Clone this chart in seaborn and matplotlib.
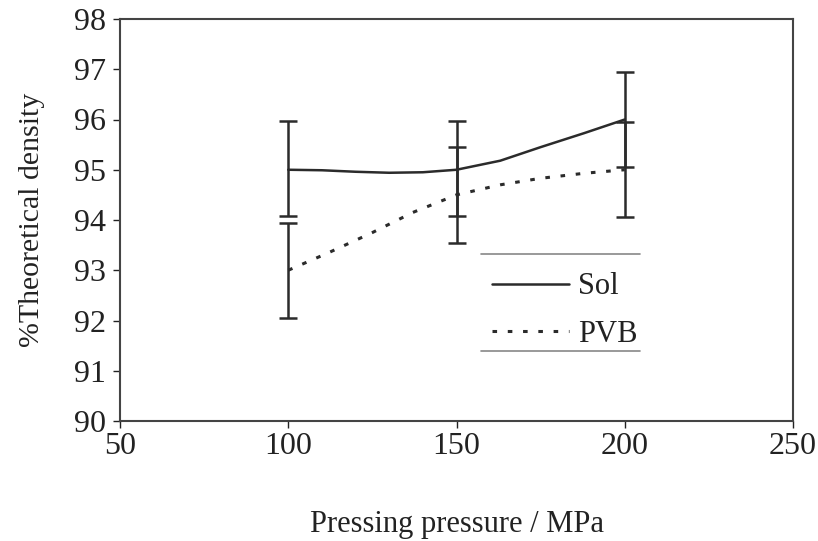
import matplotlib
matplotlib.use("Agg")
import matplotlib.pyplot as plt
import seaborn as sns
import pandas as pd
import numpy as np

# measured points
pressure = [100, 150, 200]
sol_mean = [95.0, 95.0, 96.0]
sol_err_lo = [0.93, 0.92, 0.95]
sol_err_hi = [0.98, 0.97, 0.95]
pvb_mean = [93.0, 94.5, 95.0]
pvb_err_lo = [0.95, 0.95, 0.95]
pvb_err_hi = [0.95, 0.95, 0.96]

# smoothed curve
sol_curve_x = [100, 110, 120, 130, 140, 150, 163, 175, 188, 200]
sol_curve_y = [95.0, 94.99, 94.96, 94.94, 94.95, 95.0, 95.18, 95.45, 95.73, 96.0]
pvb_curve_x = [100, 112, 125, 137, 150, 163, 175, 188, 200]
pvb_curve_y = [93.0, 93.35, 93.75, 94.15, 94.5, 94.7, 94.83, 94.93, 95.0]

x_ticks = [50, 100, 150, 200, 250]
y_ticks = [90, 91, 92, 93, 94, 95, 96, 97, 98]

sns.set_theme(style="white")
plt.rcParams["font.family"] = ["Liberation Serif", "DejaVu Serif"]

fig, ax = plt.subplots(figsize=(8.18, 5.41), dpi=100)
fig.subplots_adjust(left=120/818, right=793/818, top=1-19/541, bottom=1-421/541)

df_sol = pd.DataFrame({"x": sol_curve_x, "y": sol_curve_y})
df_pvb = pd.DataFrame({"x": pvb_curve_x, "y": pvb_curve_y})
ink = "#2b2b2b"
sns.lineplot(data=df_sol, x="x", y="y", ax=ax, color=ink, lw=1.8, label="Sol", sort=True)
sns.lineplot(data=df_pvb, x="x", y="y", ax=ax, color=ink, lw=2.2, label="PVB",
             linestyle=(0, (1.5, 3.5)), sort=True)

ax.errorbar(pressure, sol_mean, yerr=[sol_err_lo, sol_err_hi], fmt="none",
            ecolor=ink, elinewidth=1.8, capsize=6.5, capthick=1.8)
ax.errorbar(pressure, pvb_mean, yerr=[pvb_err_lo, pvb_err_hi], fmt="none",
            ecolor=ink, elinewidth=1.8, capsize=6.5, capthick=1.8)

ax.set_xlim(50, 250)
ax.set_ylim(90, 98)
ax.set_xticks(x_ticks)
ax.set_yticks(y_ticks)
ax.tick_params(axis="both", labelsize=23, colors="#222222", length=5, width=1,
               direction="out", bottom=True, left=True, pad=5)
ax.tick_params(axis="x", pad=3)
for s in ax.spines.values():
    s.set_color("#444444")
    s.set_linewidth(1.5)

ax.set_xlabel("Pressing pressure / MPa", fontsize=22, color="#222222", labelpad=35)
ax.set_ylabel("%Theoretical density", fontsize=21.5, color="#222222", labelpad=21)

leg = ax.legend(loc="upper left", bbox_to_anchor=(360/673, 1-(260-19)/402), frameon=False,
                fontsize=22, handlelength=2.5, handletextpad=0.3, labelspacing=0.6,
                borderaxespad=0)
for t in leg.get_texts():
    t.set_color("#222222")
# legend box top/bottom rules
ax.plot([0.536, 0.773], [1-(254-19)/402]*2, transform=ax.transAxes, color="#888888", lw=1.2)
ax.plot([0.536, 0.773], [1-(351-19)/402]*2, transform=ax.transAxes, color="#888888", lw=1.2)

fig.savefig("out.png", dpi=100)
